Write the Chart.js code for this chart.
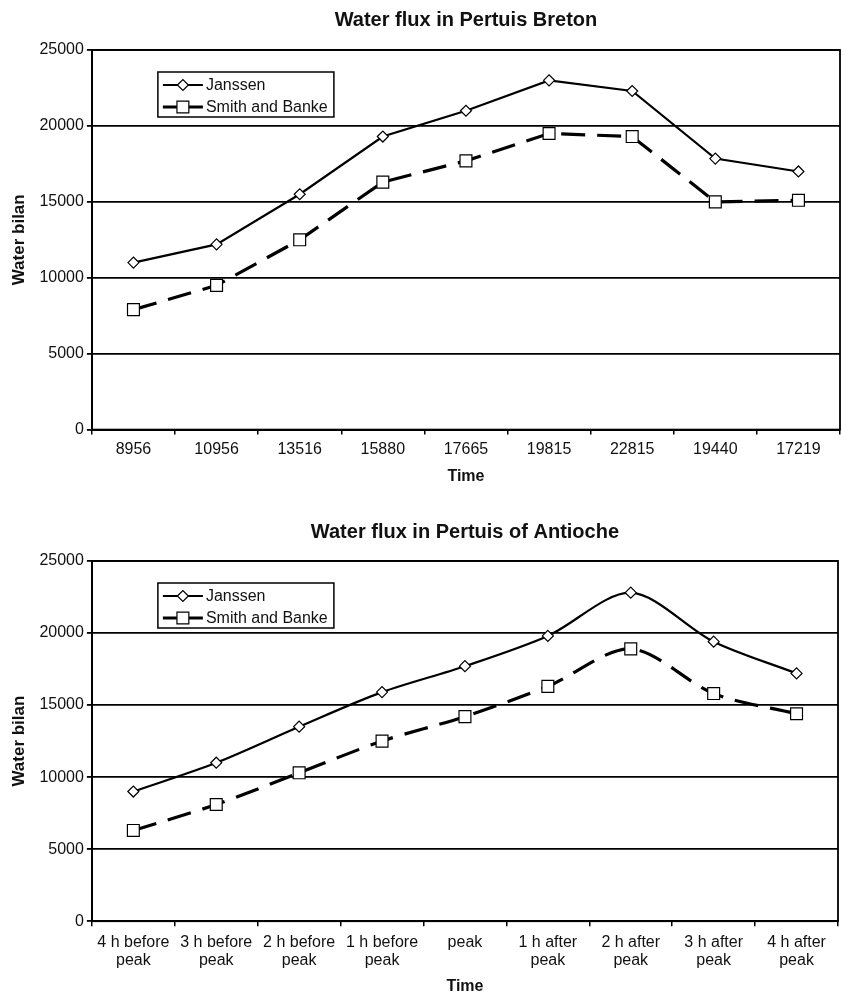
<!DOCTYPE html>
<html>
<head>
<meta charset="utf-8">
<title>Water flux in Pertuis Breton / Pertuis of Antioche</title>
<script src="https://cdn.jsdelivr.net/npm/chart.js@4.4.1/dist/chart.umd.min.js"></script>
<style>
  body { margin: 0; background: #fff; }
  canvas { display: block; }
</style>
</head>
<body>
<canvas id="chartBreton" width="842" height="497"></canvas>
<canvas id="chartAntioche" width="842" height="498"></canvas>
<script>
"use strict";

// Series names
const seriesNames = ['Janssen', 'Smith and Banke'];

// Pertuis Breton (x labels are the time values)
const bretonLabels = ['8956', '10956', '13516', '15880', '17665', '19815', '22815', '19440', '17219'];
const bretonJanssen = [11000, 12200, 15500, 19300, 21000, 23000, 22300, 17850, 17000];
const bretonSmith = [7900, 9500, 12500, 16300, 17700, 19500, 19300, 15000, 15100];

// Pertuis of Antioche
const antiocheLabels = [
    ['4 h before', 'peak'], ['3 h before', 'peak'], ['2 h before', 'peak'], ['1 h before', 'peak'],
    'peak',
    ['1 h after', 'peak'], ['2 h after', 'peak'], ['3 h after', 'peak'], ['4 h after', 'peak']
];
const antiocheJanssen = [9000, 11000, 13500, 15900, 17700, 19800, 22800, 19400, 17200];
const antiocheSmith = [6300, 8100, 10300, 12500, 14200, 16300, 18900, 15800, 14400];

// Y axis
const yMin = 0;
const yMax = 25000;
const yStep = 5000;

const FONT = "'Liberation Sans', Arial, Helvetica, sans-serif";
const INK = '#111';

// Draws the full frame around the plot area (top/right sides too)
const plotFrame = {
    id: 'plotFrame',
    afterDatasetsDraw(chart) {
        const a = chart.chartArea;
        const ctx = chart.ctx;
        ctx.save();
        ctx.strokeStyle = '#000';
        ctx.lineWidth = 1.8;
        ctx.strokeRect(a.left, a.top, a.right - a.left, a.bottom - a.top);
        ctx.restore();
    }
};

// Boxed legend inside the plot, line sample with marker in the middle
const boxLegend = {
    id: 'boxLegend',
    afterDraw(chart, args, opts) {
        const ctx = chart.ctx;
        const a = chart.chartArea;
        const x = a.left + opts.left;
        const y = a.top + opts.top;
        ctx.save();
        ctx.fillStyle = '#fff';
        ctx.fillRect(x, y, opts.width, opts.height);
        ctx.strokeStyle = '#000';
        ctx.lineWidth = 1.5;
        ctx.strokeRect(x, y, opts.width, opts.height);
        chart.data.datasets.forEach((ds, i) => {
            const cy = y + 13 + i * 22;
            ctx.strokeStyle = '#000';
            ctx.lineWidth = ds.borderWidth;
            ctx.setLineDash(ds.borderDash || []);
            ctx.lineDashOffset = ds.borderDash ? 10 : 0;
            ctx.beginPath();
            ctx.moveTo(x + 5, cy);
            ctx.lineTo(x + 45, cy);
            ctx.stroke();
            ctx.setLineDash([]);
            ctx.fillStyle = '#fff';
            ctx.lineWidth = ds.pointBorderWidth;
            Chart.helpers.drawPoint(ctx, {
                pointStyle: ds.pointStyle,
                radius: ds.pointRadius,
                borderWidth: ds.pointBorderWidth,
                rotation: 0
            }, x + 25, cy);
            ctx.fillStyle = INK;
            ctx.font = '16px ' + FONT;
            ctx.textBaseline = 'middle';
            ctx.fillText(ds.label, x + 48, cy + 1);
        });
        ctx.restore();
    }
};

function makeDatasets(janssen, smith, tension) {
    return [{
        label: seriesNames[0],
        data: janssen,
        borderColor: '#000',
        borderWidth: 2.2,
        tension: tension,
        pointStyle: 'rectRot',
        pointRadius: 5.5,
        pointBackgroundColor: '#fff',
        pointBorderColor: '#000',
        pointBorderWidth: 1.2
    }, {
        label: seriesNames[1],
        data: smith,
        borderColor: '#000',
        borderWidth: 3.2,
        borderDash: [24, 12],
        tension: tension,
        pointStyle: 'rect',
        pointRadius: 8.4,
        pointBackgroundColor: '#fff',
        pointBorderColor: '#000',
        pointBorderWidth: 1.2
    }];
}

function makeOptions(titleText, titlePad, tickPad, xTitlePad, rightPad) {
    return {
        responsive: false,
        animation: false,
        events: [],
        layout: { autoPadding: false, padding: { left: 0, right: rightPad, top: 0, bottom: 0 } },
        plugins: {
            legend: { display: false },
            tooltip: { enabled: false },
            title: {
                display: true,
                fullSize: false,
                text: titleText,
                color: INK,
                font: { family: FONT, size: 20, weight: 'bold' },
                padding: titlePad
            },
            boxLegend: { left: 66, top: 22, width: 176, height: 45 }
        },
        scales: {
            x: {
                offset: true,
                grid: { offset: true, drawOnChartArea: false, color: '#000', lineWidth: 1.5, tickLength: 5 },
                border: { color: '#000', width: 2 },
                ticks: {
                    color: INK, autoSkip: false, maxRotation: 0, padding: tickPad,
                    font: { family: FONT, size: 16, lineHeight: 1.15 }
                },
                title: {
                    display: true, text: 'Time', color: INK,
                    font: { family: FONT, size: 16, weight: 'bold', lineHeight: 1 },
                    padding: xTitlePad
                }
            },
            y: {
                min: yMin,
                max: yMax,
                grid: { color: '#000', lineWidth: 1.8, tickLength: 5 },
                border: { color: '#000', width: 2 },
                ticks: {
                    stepSize: yStep, color: INK, padding: 3,
                    font: { family: FONT, size: 16 },
                    callback: v => String(v)
                },
                title: {
                    display: true, text: 'Water bilan', color: INK,
                    font: { family: FONT, size: 17, weight: 'bold' },
                    padding: { top: 9, bottom: 7 }
                }
            }
        }
    };
}

new Chart(document.getElementById('chartBreton'), {
    type: 'line',
    data: { labels: bretonLabels, datasets: makeDatasets(bretonJanssen, bretonSmith, 0) },
    options: makeOptions('Water flux in Pertuis Breton', { top: 8, bottom: 18 }, 6, { top: 4, bottom: 12 }, 2),
    plugins: [plotFrame, boxLegend]
});

new Chart(document.getElementById('chartAntioche'), {
    type: 'line',
    data: { labels: antiocheLabels, datasets: makeDatasets(antiocheJanssen, antiocheSmith, 0.3) },
    options: makeOptions('Water flux in Pertuis of Antioche', { top: 23, bottom: 17 }, 7, { top: 2, bottom: 0 }, 4),
    plugins: [plotFrame, boxLegend]
});
</script>
</body>
</html>
